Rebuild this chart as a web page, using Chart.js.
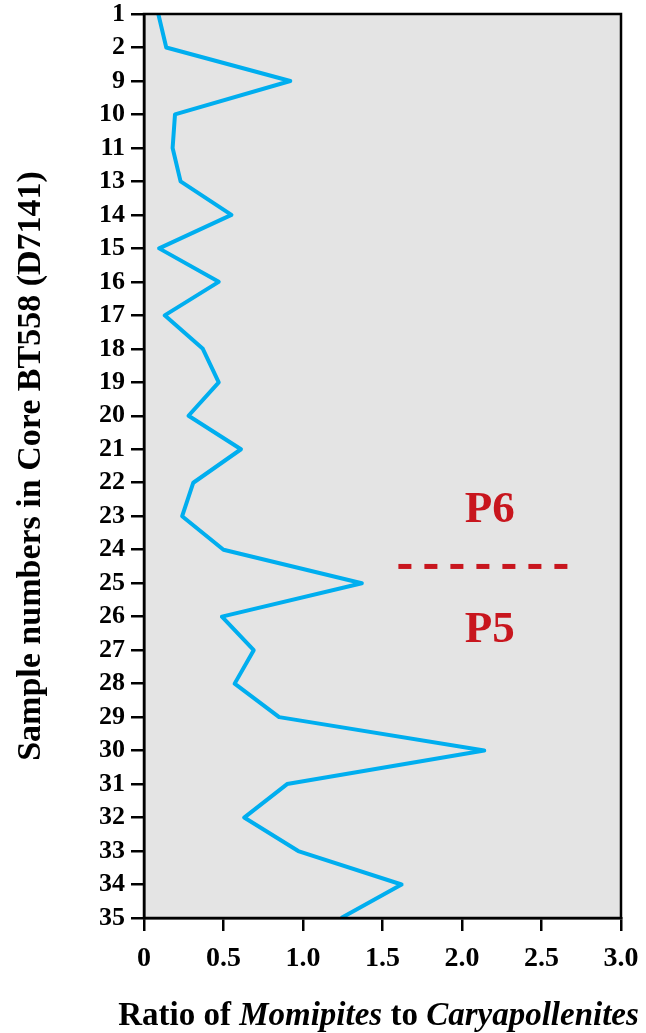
<!DOCTYPE html>
<html>
<head>
<meta charset="utf-8">
<script src="https://cdn.jsdelivr.net/npm/chart.js@4"></script>
<style>
    html, body { margin: 0; padding: 0; background: #fff; }
    #wrap { width: 646px; height: 1033px; }
</style>
</head>
<body>
<div id="wrap"><canvas id="chart"></canvas></div>
<script>
// sample numbers, top to bottom
const samples = ['1', '2', '9', '10', '11', '13', '14', '15', '16', '17', '18', '19', '20', '21',
    '22', '23', '24', '25', '26', '27', '28', '29', '30', '31', '32', '33', '34', '35'];
// Momipites / Caryapollenites ratio per sample
const ratios = [0.09, 0.14, 0.92, 0.195, 0.18, 0.23, 0.55, 0.095, 0.47, 0.13, 0.37, 0.47, 0.28, 0.61,
    0.31, 0.24, 0.50, 1.37, 0.49, 0.69, 0.57, 0.85, 2.14, 0.90, 0.63, 0.97, 1.62, 1.24];
const xTickLabels = ['0', '0.5', '1.0', '1.5', '2.0', '2.5', '3.0'];
// P6 / P5 boundary sits between samples 24 and 25
const boundaryBetween = ['24', '25'];
const boundaryRange = [1.6, 2.7];
const zoneLabels = ['P6', 'P5'];

const SERIF = '"Liberation Serif", "Times New Roman", serif';
const RED = '#c8161e';

const framePlugin = {
    id: 'frame',
    beforeDraw(chart) {
        const { ctx, chartArea: a } = chart;
        ctx.save();
        ctx.fillStyle = '#e4e4e4';
        ctx.fillRect(a.left, a.top, a.right - a.left, a.bottom - a.top);
        ctx.restore();
    },
    afterDatasetsDraw(chart) {
        const { ctx, scales: { x, y } } = chart;
        const i0 = samples.indexOf(boundaryBetween[0]);
        const i1 = samples.indexOf(boundaryBetween[1]);
        const by = y.getPixelForValue((i0 + i1) / 2);
        const x0 = x.getPixelForValue(boundaryRange[0]);
        const x1 = x.getPixelForValue(boundaryRange[1]);
        const cx = (x0 + x1) / 2;

        ctx.save();
        ctx.strokeStyle = RED;
        ctx.lineWidth = 5;
        ctx.setLineDash([13, 13]);
        ctx.beginPath();
        ctx.moveTo(x0, by);
        ctx.lineTo(x1, by);
        ctx.stroke();
        ctx.setLineDash([]);

        ctx.fillStyle = RED;
        ctx.font = 'bold 45px ' + SERIF;
        ctx.textAlign = 'center';
        ctx.textBaseline = 'alphabetic';
        ctx.fillText(zoneLabels[0], cx + 4, by - 44);
        ctx.fillText(zoneLabels[1], cx + 4, by + 76);
        ctx.restore();
    },
    afterDraw(chart) {
        const { ctx, chartArea: a } = chart;
        ctx.save();
        ctx.strokeStyle = '#000';
        ctx.lineWidth = 2.5;
        ctx.strokeRect(a.left, a.top, a.right - a.left, a.bottom - a.top);

        // x axis title, mixed roman / italic
        const parts = [
            ['Ratio of ', 'bold'],
            ['Momipites', 'italic bold'],
            [' to ', 'bold'],
            ['Caryapollenites', 'italic bold']
        ];
        const size = '33px ';
        let total = 0;
        parts.forEach(p => {
            ctx.font = p[1] + ' ' + size + SERIF;
            total += ctx.measureText(p[0]).width;
        });
        let tx = (a.left + a.right) / 2 - 4 - total / 2;
        ctx.fillStyle = '#000';
        ctx.textBaseline = 'alphabetic';
        ctx.textAlign = 'left';
        parts.forEach(p => {
            ctx.font = p[1] + ' ' + size + SERIF;
            ctx.fillText(p[0], tx, 1025);
            tx += ctx.measureText(p[0]).width;
        });
        ctx.restore();
    }
};

new Chart(document.getElementById('chart'), {
    type: 'line',
    data: {
        labels: samples,
        datasets: [{
            data: ratios,
            borderColor: '#00aeef',
            borderWidth: 4,
            borderJoinStyle: 'round',
            pointRadius: 0,
            tension: 0,
            fill: false,
            clip: 4
        }]
    },
    options: {
        indexAxis: 'y',
        responsive: true,
        maintainAspectRatio: false,
        animation: false,
        layout: { padding: { top: 14, right: 25, left: 0, bottom: 0 } },
        plugins: { legend: { display: false }, tooltip: { enabled: false } },
        scales: {
            x: {
                type: 'linear',
                min: 0,
                max: 3,
                afterFit: s => { s.height = 115; s.paddingLeft = 0; s.paddingRight = 0; },
                ticks: {
                    stepSize: 0.5,
                    color: '#000',
                    padding: 11,
                    font: { family: SERIF, size: 28, weight: 'bold' },
                    callback: (v, i) => xTickLabels[i]
                },
                grid: { drawOnChartArea: false, color: '#000', lineWidth: 2.5, tickLength: 13 },
                border: { color: '#000', width: 2.5 }
            },
            y: {
                type: 'category',
                offset: false,
                afterFit: s => { s.width = 144; s.paddingTop = 0; s.paddingBottom = 0; },
                ticks: {
                    color: '#000',
                    padding: 6,
                    autoSkip: false,
                    font: { family: SERIF, size: 26, weight: 'bold', lineHeight: 1 }
                },
                grid: { drawOnChartArea: false, color: '#000', lineWidth: 2.5, tickLength: 13 },
                border: { color: '#000', width: 2.5 },
                title: {
                    display: true,
                    text: 'Sample numbers in Core BT558 (D7141)',
                    color: '#000',
                    font: { family: SERIF, size: 34, weight: 'bold', lineHeight: 1 },
                    padding: { top: 14, bottom: 0 }
                }
            }
        }
    },
    plugins: [framePlugin]
});
</script>
</body>
</html>
